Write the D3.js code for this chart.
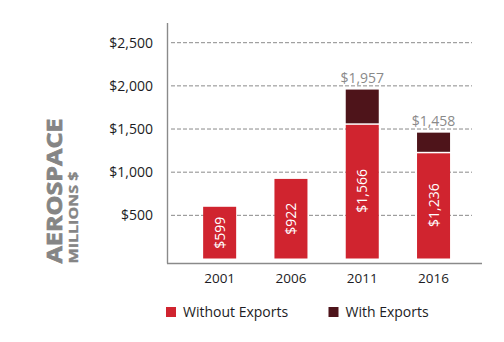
<!DOCTYPE html>
<html>
<head>
<meta charset="utf-8">
<script src="https://cdn.jsdelivr.net/npm/d3@7"></script>
<style>
  html, body { margin: 0; padding: 0; background: #fff; }
  svg { display: block; }
  text { font-family: "Open Sans", sans-serif; }
</style>
</head>
<body>
<svg id="chart" width="504" height="342"></svg>
<script>
// ---- Data ----
const years = ["2001", "2006", "2011", "2016"];
const withoutExports = [599, 922, 1566, 1236];
const withExports = [599, 922, 1957, 1458];          // totals incl. exports
const yTicks = [500, 1000, 1500, 2000, 2500];
const seriesNames = ["Without Exports", "With Exports"];
const titleMain = "AEROSPACE";
const titleSub = "MILLIONS $";

// ---- Styles ----
const RED = "#d0242f";
const DARK = "#4e141a";
const GRAY = "#8a8a8a";
const TEXT = "#1c1c24";

const svg = d3.select("#chart");

const x = d3.scaleBand()
  .domain(years)
  .range([184, 469.2])
  .paddingInner(0.537)
  .paddingOuter(0.2685);

const y = d3.scaleLinear()
  .domain([0, 2500])
  .range([258.5, 42.7]);

const fmt = v => "$" + d3.format(",")(v);

// Gridlines
svg.append("g").selectAll("line")
  .data(yTicks)
  .join("line")
  .attr("x1", 171).attr("x2", 472)
  .attr("y1", d => y(d)).attr("y2", d => y(d))
  .attr("stroke", GRAY)
  .attr("stroke-width", 1)
  .attr("stroke-dasharray", "4,2");

// Y tick labels
svg.append("g").selectAll("text")
  .data(yTicks)
  .join("text")
  .attr("x", 153)
  .attr("y", d => y(d))
  .attr("dy", "0.36em")
  .attr("text-anchor", "end")
  .attr("fill", TEXT)
  .attr("font-size", 14)
  .text(fmt);

// Axes lines
svg.append("line")
  .attr("x1", 167.5).attr("x2", 167.5)
  .attr("y1", 23).attr("y2", 263.5)
  .attr("stroke", GRAY).attr("stroke-width", 1.4);
svg.append("line")
  .attr("x1", 167).attr("x2", 482)
  .attr("y1", 263.5).attr("y2", 263.5)
  .attr("stroke", GRAY).attr("stroke-width", 1.4);

// Dark (with exports) bars
svg.append("g").selectAll("rect")
  .data(years.map((yr, i) => ({ yr, lo: withoutExports[i], hi: withExports[i] })).filter(d => d.hi > d.lo))
  .join("rect")
  .attr("x", d => x(d.yr))
  .attr("width", x.bandwidth())
  .attr("y", d => y(d.hi))
  .attr("height", d => y(d.lo) - y(d.hi))
  .attr("fill", DARK);

// Red (without exports) bars
svg.append("g").selectAll("rect")
  .data(years.map((yr, i) => ({ yr, v: withoutExports[i], top: withExports[i] > withoutExports[i] })))
  .join("rect")
  .attr("x", d => x(d.yr))
  .attr("width", x.bandwidth())
  .attr("y", d => y(d.v) + (d.top ? 1.5 : 0))
  .attr("height", d => y(0) - y(d.v) - (d.top ? 1.5 : 0))
  .attr("fill", RED);

// Rotated white labels inside red bars
svg.append("g").selectAll("text")
  .data(years.map((yr, i) => ({ yr, v: withoutExports[i] })))
  .join("text")
  .attr("transform", d => `translate(${x(d.yr) + x.bandwidth() / 2},${(y(d.v) + y(0)) / 2}) rotate(-90)`)
  .attr("text-anchor", "middle")
  .attr("dy", "0.36em")
  .attr("fill", "#fff")
  .attr("font-size", 14)
  .text(d => fmt(d.v));

// Total labels above stacked bars
svg.append("g").selectAll("text")
  .data(years.map((yr, i) => ({ yr, lo: withoutExports[i], hi: withExports[i] })).filter(d => d.hi > d.lo))
  .join("text")
  .attr("x", d => x(d.yr) + x.bandwidth() / 2)
  .attr("y", d => y(d.hi) - 6.5)
  .attr("text-anchor", "middle")
  .attr("fill", GRAY)
  .attr("font-size", 14)
  .text(d => fmt(d.hi));

// X labels
svg.append("g").selectAll("text")
  .data(years)
  .join("text")
  .attr("x", d => x(d) + x.bandwidth() / 2)
  .attr("y", 283)
  .attr("text-anchor", "middle")
  .attr("fill", TEXT)
  .attr("font-size", 13.5)
  .text(d => d);

// Title (rotated)
svg.append("text")
  .attr("transform", "translate(62,263.5) rotate(-90)")
  .attr("fill", "#858585")
  .attr("stroke", "#858585")
  .attr("stroke-width", 0.7)
  .attr("font-family", "DejaVu Sans")
  .attr("font-weight", "bold")
  .attr("font-size", 20.5)
  .attr("textLength", 145)
  .attr("lengthAdjust", "spacingAndGlyphs")
  .text(titleMain);
svg.append("text")
  .attr("transform", "translate(77.5,263.5) rotate(-90)")
  .attr("fill", "#858585")
  .attr("stroke", "#858585")
  .attr("stroke-width", 0.3)
  .attr("font-family", "DejaVu Sans")
  .attr("font-weight", "bold")
  .attr("font-size", 12.3)
  .attr("textLength", 92)
  .attr("lengthAdjust", "spacingAndGlyphs")
  .text(titleSub);

// Legend
const legendX = [166, 328.5];
const legendColors = [RED, DARK];
const lg = svg.append("g").selectAll("g")
  .data(seriesNames)
  .join("g")
  .attr("transform", (d, i) => `translate(${legendX[i]},307)`);
lg.append("rect").attr("width", 10).attr("height", 10).attr("fill", (d, i) => legendColors[i]);
lg.append("text")
  .attr("x", 17).attr("y", 10.3)
  .attr("fill", TEXT)
  .attr("font-size", 14)
  .text(d => d);
</script>
</body>
</html>
